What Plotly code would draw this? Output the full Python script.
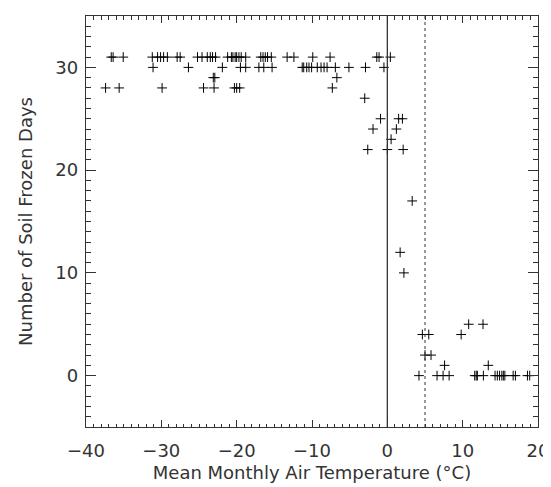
import plotly.graph_objects as go

# Mean monthly air temperature (°C) and number of soil frozen days
temp_31 = [-36.65, -36.4, -35.06, -31.2, -30.5, -30.1, -29.7, -29.2, -27.9, -27.5,
           -25.2, -24.6, -23.9, -23.5, -23.2, -22.8, -21.2, -20.7, -20.5, -20.2,
           -20.0, -19.7, -19.4, -18.8, -16.8, -16.5, -16.2, -15.9, -15.4, -13.3,
           -12.4, -9.9, -7.6, -1.4, -1.1, 0.4]
temp_30 = [-31.1, -26.4, -21.9, -19.5, -18.8, -17.05, -16.4, -15.3, -11.3, -11.1,
           -10.7, -10.4, -10.05, -9.3, -8.8, -8.4, -8.0, -6.9, -5.1, -2.9, -0.45]
temp_29 = [-23.1, -22.9, -6.7]
temp_28 = [-37.4, -35.6, -29.9, -24.4, -23.0, -20.3, -20.0, -19.6, -7.3]
warm_temp = [-3.0, -0.9, 1.5, 2.0, -1.9, 1.2, 0.5, -2.6, 0.0, 2.1,
             3.3, 1.7, 2.2,
             10.8, 12.7, 4.65, 5.5, 9.8, 5.0, 5.8, 7.6, 13.4,
             4.2, 6.6, 7.4, 8.2, 11.6, 11.8, 11.95, 12.75, 14.3, 14.6, 14.9,
             15.2, 15.4, 15.6, 16.7, 17.0, 18.6, 18.9]
warm_days = [27, 25, 25, 25, 24, 24, 23, 22, 22, 22,
             17, 12, 10,
             5, 5, 4, 4, 4, 2, 2, 1, 1,
             0, 0, 0, 0, 0, 0, 0, 0, 0, 0, 0,
             0, 0, 0, 0, 0, 0, 0]

temps = temp_31 + temp_30 + temp_29 + temp_28 + warm_temp
days = ([31] * len(temp_31) + [30] * len(temp_30) + [29] * len(temp_29)
        + [28] * len(temp_28) + warm_days)

X_RANGE = [-40, 20]
Y_RANGE = [-5, 35]
ZERO_LINE = 0
THAW_LINE = 5

FONT = "DejaVu Sans"
TXT = "#333333"
AX = "#333333"

fig = go.Figure()
fig.add_trace(go.Scatter(
    x=temps, y=days, mode="markers",
    marker=dict(symbol="cross-thin", size=7, color="black",
                line=dict(color="black", width=1)),
    showlegend=False, hoverinfo="x+y"))
# invisible trace to hold the minor-tick overlay axes
fig.add_trace(go.Scatter(x=X_RANGE, y=Y_RANGE, xaxis="x2", yaxis="y2",
                         mode="markers", marker=dict(opacity=0),
                         showlegend=False, hoverinfo="skip"))

fig.add_shape(type="line", xref="x", yref="paper", x0=ZERO_LINE, x1=ZERO_LINE,
              y0=0, y1=1, line=dict(color=AX, width=1.3))
fig.add_shape(type="line", xref="x", yref="paper", x0=THAW_LINE, x1=THAW_LINE,
              y0=0, y1=1, line=dict(color=AX, width=1, dash="dot"))

axis_common = dict(
    showgrid=False, zeroline=False, showline=True, linecolor=AX,
    linewidth=1.3, mirror="ticks", ticks="inside", tickcolor=AX,
    tickwidth=1, automargin=False,
    tickfont=dict(family=FONT, size=18, color=TXT),
)
minor_common = dict(
    showgrid=False, zeroline=False, showline=False, mirror="ticks",
    ticks="inside", tickcolor=AX, tickwidth=1, showticklabels=False,
    automargin=False,
)

# page body adds an 8px offset, so the figure is sized to fit the window
fig.update_layout(
    width=543, height=479,
    margin=dict(l=78, r=13, t=8, b=60),
    paper_bgcolor="white", plot_bgcolor="white",
    xaxis=dict(range=X_RANGE, dtick=10, tick0=0, ticklen=7,
               ticklabelstandoff=7,
               title=dict(text="Mean Monthly Air Temperature (°C)",
                          font=dict(family=FONT, size=18, color=TXT),
                          standoff=6),
               **axis_common),
    yaxis=dict(range=Y_RANGE, dtick=10, tick0=0, ticklen=10,
               ticklabelstandoff=3,
               title=dict(text="Number of Soil Frozen Days",
                          font=dict(family=FONT, size=18, color=TXT),
                          standoff=18),
               **axis_common),
    xaxis2=dict(range=X_RANGE, dtick=1, tick0=0, ticklen=3.5,
                overlaying="x", anchor="y2", side="bottom", **minor_common),
    yaxis2=dict(range=Y_RANGE, dtick=1, tick0=0, ticklen=5,
                overlaying="y", anchor="x2", side="left", **minor_common),
)

fig.write_html("out.html")
